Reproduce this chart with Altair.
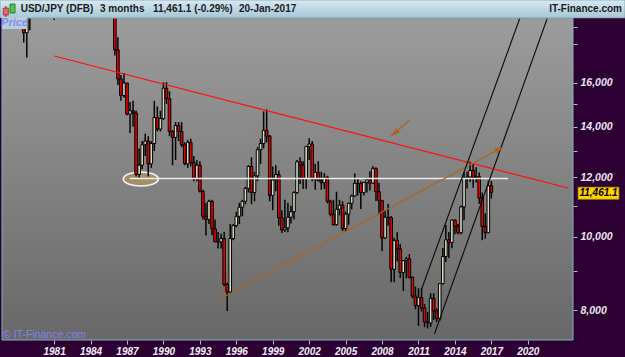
import altair as alt
import pandas as pd

# ---------------- data (USD/JPY DFB, quarterly candles, in yen; chart shows yen x 100)
first_quarter = 1978.25          # 1978 Q2; candles sit at quarter start
PRICE_SCALE = 100

opens = [222, 204, 186.5,
         195.5, 209, 217, 222, 240, 250, 218, 212, 203.5, 209, 223, 230,
         220, 246, 254, 266, 235, 239, 239, 237, 232, 224, 237, 245,
         251, 252, 248, 216, 200.5, 177, 162, 154, 160, 145.5, 147, 146,
         121, 124.5, 132.5, 134, 125, 133, 144, 139, 143.5, 157.5, 152.5, 138,
         135.5, 140.5, 138, 132.5, 125, 133.5, 125.5, 119.5, 124.5, 115, 106.5, 105.5,
         111.5, 102.5, 98.5, 98.5, 99.5, 86.5, 84.5, 99.5, 103.5, 106.5, 109.5, 111.5,
         116, 124, 114.5, 120.5, 130.5, 133, 138.5, 136, 113.5, 119, 121, 106,
         102.2, 102.8, 106.2, 108, 114.5, 125.8, 124.5, 119.5, 131.8, 132.8, 119.5, 121.8,
         118.7, 118, 120, 111.5, 107.2, 103.8, 108.8, 110.2, 102.6, 107.2, 110.8, 113.3,
         117.8, 117.7, 114.5, 118.1, 119, 117.8, 123.2, 114.8, 111.7, 99.7, 106.2, 106.1,
         90.6, 98.9, 96.4, 89.7, 93, 93.5, 88.4, 83.5, 81.1, 83.1, 80.5, 77.1,
         76.9, 82.9, 79.8, 77.9, 86.7, 94.2, 99.1, 98.3, 105.3, 103.2, 101.3, 109.6,
         119.8, 120.1, 122.5, 119.9, 120.2, 112.6, 103.2, 101.3, 116.9]
highs = [226, 205, 199,
         210, 222, 225, 251, 261, 252, 230, 217, 211, 229, 246, 233,
         248, 256, 268, 278, 242, 245, 248, 237, 236, 238, 247, 252,
         263, 254, 252, 218, 204, 184, 164, 165, 160, 151, 151.5, 147,
         131, 134, 137, 136, 134, 151.5, 149, 147, 160.3, 160.4, 156, 138.5,
         142, 142, 142, 133.5, 134.5, 135, 128, 126.5, 126, 115.5, 111, 112,
         112, 105.5, 101.5, 101, 101.5, 87, 104, 104, 108, 111, 112, 116.5,
         124.5, 127.5, 122, 131.5, 135, 146.7, 147.6, 136.5, 124, 124.5, 122.5, 108.5,
         112, 111, 110, 115, 126.5, 127.5, 126, 131.8, 135.2, 134, 125, 126,
         122, 121.5, 120.5, 112, 112, 114.8, 112, 111.5, 108, 111, 113.8, 121.4,
         119.5, 118.5, 118.3, 119.8, 122.2, 124.2, 123.7, 117.9, 112, 108.6, 110.7, 106.6,
         99.7, 101.4, 97.8, 93.1, 94.1, 94.9, 88.6, 85.9, 85.5, 85.5, 81.5, 79.5,
         84.2, 84.2, 80.4, 86.8, 96.7, 103.7, 101.5, 105.4, 105.4, 104.1, 110.1, 121.8,
         122.0, 125.9, 125.3, 123.7, 121.7, 114.5, 107.5, 118.7, 118.6]
lows = [201, 181, 173,
        188, 206, 214, 220, 238, 215, 210, 203, 194, 207, 222, 213,
        218, 232, 248, 233, 226, 233, 234, 231, 222, 223, 236, 238,
        249, 243, 215, 199.5, 174, 159, 151.5, 153, 145, 137.3, 140, 120.3,
        119.8, 123, 128, 120.3, 123.5, 130, 138, 138, 143, 150, 136, 124.5,
        126.5, 134, 131.5, 124.5, 123.5, 124, 118.5, 118.5, 114.5, 105.5, 100.4, 104,
        100.5, 98.5, 96.5, 96.5, 86, 79.75, 84, 99, 103, 104, 106.5, 110.5,
        114.5, 110.5, 111.5, 118.5, 125, 131, 133.5, 111.5, 108.5, 115, 103.5, 101.2,
        101.5, 101.4, 104.2, 105.5, 114, 117.5, 115.8, 115.8, 126.5, 118.5, 115.5, 118.5,
        115.5, 115.8, 110.8, 106.5, 103.5, 103.5, 106.8, 101.8, 101.7, 103.8, 108.8, 113,
        113.5, 108.9, 113.5, 114.5, 115.2, 117.5, 111.6, 107.2, 95.7, 99.4, 103.5, 87.1,
        87.1, 92.8, 88.2, 84.8, 88.1, 88.1, 82.9, 80.2, 76.2, 79.6, 75.9, 75.6,
        76, 77.6, 77.1, 77.4, 86.5, 92.6, 93.8, 96.6, 100.8, 100.8, 100.8, 105.2,
        115.9, 118.3, 116.2, 118.1, 110.7, 99.0, 99.5, 101.2, 112.5]
closes = [204, 186.5, 195.5,
          209, 217, 222, 240, 250, 218, 212, 203.5, 209, 223, 230, 220,
          246, 254, 266, 235, 239, 239, 237, 232, 224, 237, 245, 251,
          252, 248, 216, 200.5, 177, 162, 154, 160, 145.5, 147, 146, 121,
          124.5, 132.5, 134, 125, 133, 144, 139, 143.5, 157.5, 152.5, 138, 135.5,
          140.5, 138, 132.5, 125, 133.5, 125.5, 119.5, 124.5, 115, 106.5, 105.5, 111.5,
          102.5, 98.5, 98.5, 99.5, 86.5, 84.5, 99.5, 103.5, 106.5, 109.5, 111.5, 116,
          124, 114.5, 120.5, 130.5, 133, 138.5, 136, 113.5, 119, 121, 106, 102.2,
          102.8, 106.2, 108, 114.5, 125.8, 124.5, 119.5, 131.8, 132.8, 119.5, 121.8, 118.7,
          118, 120, 111.5, 107.2, 103.8, 108.8, 110.2, 102.6, 107.2, 110.8, 113.3, 117.8,
          117.7, 114.5, 118.1, 119, 117.8, 123.2, 114.8, 111.7, 99.7, 106.2, 106.1, 90.6,
          98.9, 96.4, 89.7, 93, 93.5, 88.4, 83.5, 81.1, 83.1, 80.5, 77.1, 76.9,
          82.9, 79.8, 77.9, 86.7, 94.2, 99.1, 98.3, 105.3, 103.2, 101.3, 109.6, 119.8,
          120.1, 122.5, 119.9, 120.2, 112.6, 103.2, 101.3, 116.9, 114.611]

# drawn lines (year, price in chart units)
red_line = {"t": [1981.0, 2023.31], "p": [17375, 11611]}
white_line = {"t": [1987.23, 2018.38], "p": [11954, 11954]}
brown_line = {"t": [1994.51, 2017.97], "p": [8249, 13160]}
brown_arrow2 = {"t": [2010.29, 2008.75], "p": [14291, 13610]}
channel_a = {"t": [2011.26, 2019.35], "p": [8530, 19512]}
channel_b = {"t": [2012.31, 2021.61], "p": [7435, 19512]}
ellipse_center = {"t": [1988.14], "p": [11934]}

x_ticks = [1981, 1984, 1987, 1990, 1993, 1996, 1999, 2002, 2005, 2008, 2011, 2014, 2017, 2020]
y_ticks = [8000, 9000, 10000, 11000, 12000, 13000, 14000, 15000, 16000, 18000, 19000]
y_labeled = [8000, 10000, 12000, 14000, 16000]

last_close_label = "11,461.1"
header_parts = ["USD/JPY (DFB)", "3 months", "11,461.1 (-0.29%)", "20-Jan-2017"]
site = "IT-Finance.com"

# ---------------- build
n = len(opens)
assert n == len(highs) == len(lows) == len(closes)
df = pd.DataFrame({
    "t": [first_quarter + 0.25 * i for i in range(n)],
    "open": [v * PRICE_SCALE for v in opens],
    "high": [v * PRICE_SCALE for v in highs],
    "low": [v * PRICE_SCALE for v in lows],
    "close": [v * PRICE_SCALE for v in closes],
})
df["dir"] = ["up" if c >= o else "down" for o, c in zip(df["open"], df["close"])]

W, H = 571, 322
FONT = "Liberation Sans"
xs = alt.Scale(domain=[1977.12, 2023.31], nice=False, zero=False)
ys = alt.Scale(type="log", domain=[7300, 19512], nice=False)

x_axis = alt.Axis(values=x_ticks, format="d", title=None, grid=False, domain=False,
                  tickSize=4, tickColor="#b8b8c8", labelPadding=2,
                  labelColor="#f0f0f4", labelFont=FONT, labelFontSize=10,
                  labelFontStyle="italic", labelFontWeight="bold", labelFlush=False)
y_axis = alt.Axis(orient="right", values=y_ticks, title=None, grid=False, domain=False,
                  tickSize=4, tickColor="#b8b8c8", labelPadding=3,
                  labelExpr="indexof(%s, datum.value) >= 0 ? format(datum.value, ',') : ''" % str(y_labeled),
                  labelColor="#e8e8ee", labelFont=FONT, labelFontSize=10.5,
                  labelFontStyle="italic", labelFontWeight="bold")


def X(f):
    return alt.X(f, scale=xs, axis=x_axis)


def Y(f):
    return alt.Y(f, scale=ys, axis=y_axis)


one = pd.DataFrame({"a": [0]})

bg = alt.Chart(one).mark_rect(
    fill=alt.Gradient(gradient="linear", x1=0, y1=0, x2=0, y2=1,
                      stops=[alt.GradientStop(color="#9c9c9c", offset=0),
                             alt.GradientStop(color="#686868", offset=1)])
).encode(x=alt.value(0), x2=alt.value(W), y=alt.value(0), y2=alt.value(H))

ell = alt.Chart(pd.DataFrame(ellipse_center)).mark_point(
    shape="M-1,0 A1,0.4,0,1,0,1,0 A1,0.4,0,1,0,-1,0 Z", size=1225,
    filled=True, fill="#a48e6a", fillOpacity=1, stroke="#f2f2f2", strokeWidth=1.6, opacity=1
).encode(x=X("t:Q"), y=Y("p:Q"))

wicks = alt.Chart(df).mark_rule(color="#050505", strokeWidth=1.5, clip=True).encode(
    x=X("t:Q"), y=Y("low:Q"), y2="high:Q")

bodies = alt.Chart(df).mark_bar(width=2.6, stroke="#000000", strokeWidth=1.0, clip=True).encode(
    x=X("t:Q"), y=Y("open:Q"), y2="close:Q",
    color=alt.Color("dir:N", scale=alt.Scale(domain=["up", "down"], range=["#d8d8c2", "#e60000"]),
                    legend=None))


def line(d, color, width):
    return alt.Chart(pd.DataFrame(d)).mark_line(color=color, strokeWidth=width, clip=True).encode(
        x=X("t:Q"), y=Y("p:Q"))


l_white = line(white_line, "#ececec", 1.5)
l_red = line(red_line, "#ff1010", 1.2)
l_brown = line(brown_line, "#b0621c", 1.2)
l_brown2 = line(brown_arrow2, "#b0621c", 1.2)
l_ch_a = line(channel_a, "#0a0a0a", 1.1)
l_ch_b = line(channel_b, "#0a0a0a", 1.1)

ARROW = "M0,0 L0.5,1.5 L-0.5,1.5 Z"
head1 = alt.Chart(pd.DataFrame({"t": [brown_line["t"][1]], "p": [brown_line["p"][1]]})).mark_point(
    shape=ARROW, size=144, filled=True, color="#b0621c", opacity=1, angle=62
).encode(x=X("t:Q"), y=Y("p:Q"))
head2 = alt.Chart(pd.DataFrame({"t": [brown_arrow2["t"][1]], "p": [brown_arrow2["p"][1]]})).mark_point(
    shape=ARROW, size=144, filled=True, color="#b0621c", opacity=1, angle=230
).encode(x=X("t:Q"), y=Y("p:Q"))

last = pd.DataFrame({"p": [df["close"].iloc[-1]], "s": [last_close_label]})
last_box = alt.Chart(last).mark_point(
    shape="M-1,-0.3 L1,-0.3 L1,0.3 L-1,0.3 Z", size=1681, filled=True, fill="#ffd200",
    stroke="#7a6a20", strokeWidth=0.8, opacity=1
).encode(x=alt.value(596.5), y=Y("p:Q"), yOffset=alt.value(1))
last_txt = alt.Chart(last).mark_text(
    font=FONT, fontSize=10, fontStyle="italic", fontWeight="bold", color="#000000"
).encode(x=alt.value(596.5), y=Y("p:Q"), yOffset=alt.value(1), text="s:N")

border = alt.Chart(one).mark_rect(fillOpacity=0, stroke="#7eb2c2", strokeWidth=1).encode(
    x=alt.value(0), x2=alt.value(W), y=alt.value(0), y2=alt.value(H))

header = alt.Chart(one).mark_rect(
    fill=alt.Gradient(gradient="linear", x1=0, y1=0, x2=0, y2=1,
                      stops=[alt.GradientStop(color="#d6eaf2", offset=0),
                             alt.GradientStop(color="#a6c6d4", offset=1)]),
    stroke="#6f8f9c", strokeWidth=0.6
).encode(x=alt.value(-2), x2=alt.value(623), y=alt.value(-18), y2=alt.value(0))

hx = [18.7, 98.0, 151.0, 237.0]
hdr = pd.DataFrame({"s": header_parts, "x": hx})
header_txt = alt.Chart(hdr).mark_text(
    font=FONT, fontSize=10, fontWeight="bold", color="#1a1a26", align="left", baseline="middle"
).encode(x=alt.X("x:Q", scale=None), y=alt.value(-9), text="s:N")
site_txt = alt.Chart(pd.DataFrame({"s": [site]})).mark_text(
    font=FONT, fontSize=10, fontWeight="bold", color="#1a1a26", align="right", baseline="middle"
).encode(x=alt.value(620), y=alt.value(-9), text="s:N")

icon_red = alt.Chart(one).mark_rect(fill="#f06464", stroke="#803030", strokeWidth=0.8).encode(
    x=alt.value(1.3), x2=alt.value(6.3), y=alt.value(-10), y2=alt.value(-3))
icon_red_w = alt.Chart(one).mark_rule(color="#803030", strokeWidth=1).encode(
    x=alt.value(3.8), y=alt.value(-12), y2=alt.value(-1))
icon_grn = alt.Chart(one).mark_rect(fill="#44d044", stroke="#206020", strokeWidth=0.8).encode(
    x=alt.value(8), x2=alt.value(13), y=alt.value(-14), y2=alt.value(-5))

price_box = alt.Chart(one).mark_rect(fill="#b4cedb", fillOpacity=1).encode(
    x=alt.value(0), x2=alt.value(25), y=alt.value(-1), y2=alt.value(11))
price_txt = alt.Chart(pd.DataFrame({"s": ["Price"]})).mark_text(
    font=FONT, fontSize=11, fontStyle="italic", fontWeight="bold", color="#8a8af8",
    align="center", baseline="middle"
).encode(x=alt.value(12.5), y=alt.value(5), text="s:N")
copy_txt = alt.Chart(pd.DataFrame({"s": ["\u00a9 IT-Finance.com"]})).mark_text(
    font=FONT, fontSize=10.5, color="#8282f0", align="left", baseline="middle"
).encode(x=alt.value(1), y=alt.value(317), text="s:N")

chart = alt.layer(
    bg, ell, wicks, bodies, l_white, l_red, l_brown, l_brown2, l_ch_a, l_ch_b,
    head1, head2, border, last_box, last_txt, header, header_txt, site_txt,
    icon_red_w, icon_red, icon_grn, price_box, price_txt, copy_txt
).properties(
    width=W, height=H, background="#2d0033",
    autosize=alt.AutoSizeParams(type="none"),
    padding={"left": 2, "top": 18, "right": 52, "bottom": 17}
).configure_view(strokeWidth=0)

chart.save("out.html", embed_options={"renderer": "svg", "actions": False})
